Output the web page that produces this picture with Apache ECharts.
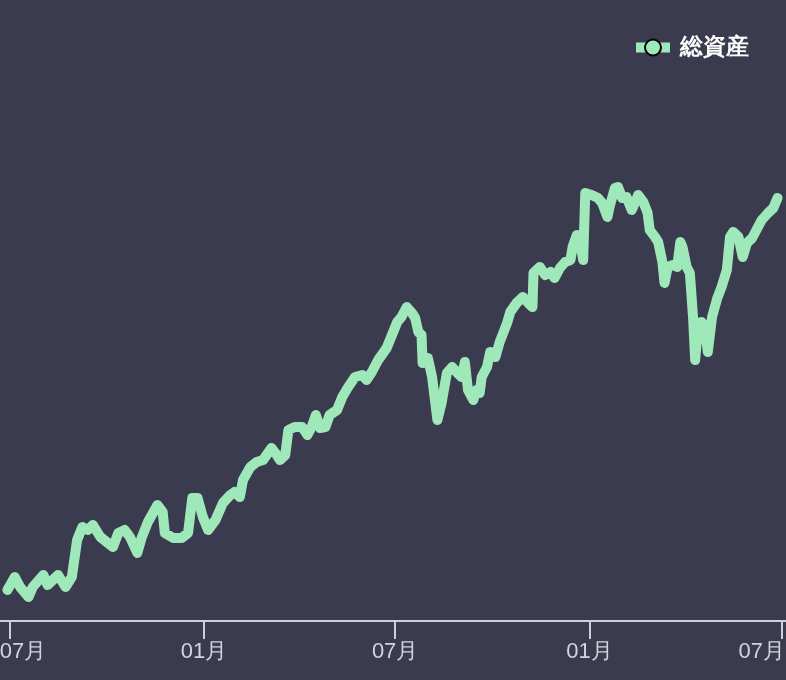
<!DOCTYPE html>
<html>
<head>
<meta charset="utf-8">
<script src="https://cdn.jsdelivr.net/npm/echarts@6/dist/echarts.min.js"></script>
<style>
  html, body { margin: 0; padding: 0; background: #3b3b50; }
  #chart { width: 786px; height: 680px; }
</style>
</head>
<body>
<div id="chart"></div>
<script>
// Series name
const seriesName = '総資産';
// Dates: day offsets from 2022-07-01
const startYear = 2022, startMonth = 6, startDay = 1;
const dayOffsets = [
  -2, 5, 10, 18, 22, 32, 36, 41, 46, 53, 59, 64, 69, 74, 79, 86, 92, 98, 103, 109,
  114, 121, 125, 131, 140, 145, 147, 155, 163, 169, 173, 178, 183, 188, 195, 202, 209, 213, 218, 221,
  228, 234, 240, 248, 253, 256, 261, 264, 270, 277, 282, 286, 290, 294, 299, 303, 310, 315, 320, 327,
  334, 338, 343, 349, 357, 367, 371, 376, 381, 384, 387, 390, 391, 396, 400, 405, 409, 414, 419, 424,
  428, 431, 434, 439, 442, 445, 447, 452, 455, 460, 464, 471, 474, 480, 486, 491, 495, 496, 502, 507,
  512, 516, 521, 526, 531, 533, 537, 540, 543, 545, 551, 557, 561, 566, 568, 573, 576, 580, 584, 589,
  592, 595, 600, 604, 606, 611, 614, 618, 620, 623, 628, 632, 635, 637, 641, 644, 647, 649, 652, 655,
  658, 661, 665, 670, 674, 679, 682, 685, 690, 694, 698, 703, 708, 712, 718, 723, 727
];
// Total assets values (arbitrary units)
const totalAssets = [
  31, 44, 34, 24, 34, 46, 36, 41, 46, 34, 44, 81, 94, 91, 96, 84, 79, 74, 88, 91,
  84, 68, 83, 99, 116, 109, 88, 83, 83, 88, 123, 123, 104, 91, 101, 118, 126, 129, 124, 141,
  154, 159, 161, 173, 166, 161, 166, 191, 194, 194, 186, 194, 206, 193, 194, 206, 211, 224, 233, 244,
  246, 241, 249, 261, 273, 299, 304, 314, 308, 303, 289, 286, 258, 263, 244, 201, 218, 248, 254, 248,
  244, 259, 231, 221, 231, 228, 244, 254, 269, 264, 279, 298, 309, 318, 324, 318, 314, 348, 354, 346,
  349, 343, 353, 359, 361, 374, 386, 381, 361, 428, 426, 423, 418, 404, 414, 433, 434, 423, 424, 411,
  418, 426, 419, 408, 391, 384, 379, 359, 338, 354, 356, 354, 379, 374, 354, 348, 304, 261, 298, 299,
  294, 269, 304, 323, 334, 351, 384, 389, 384, 364, 378, 383, 393, 401, 408, 413, 423
];

const seriesData = dayOffsets.map((d, i) => [
  new Date(startYear, startMonth, startDay + d).getTime(),
  totalAssets[i]
]);

const axisMin = new Date(2022, 5, 22).getTime();
const axisMax = new Date(2024, 6, 5).getTime();

const chart = echarts.init(document.getElementById('chart'), null, { renderer: 'canvas' });
const lineColor = '#9ee8b9';
const axisColor = '#cdcde2';

function labelFormatter(value) {
  const d = new Date(value);
  const txt = String(d.getMonth() + 1).padStart(2, '0') + '月';
  if (d.getFullYear() === 2022) return '{first|' + txt + '}';
  if (d.getFullYear() === 2024 && d.getMonth() >= 6) return '{last|' + txt + '}';
  return txt;
}

chart.setOption({
  backgroundColor: '#3b3b50',
  animation: false,
  legend: {
    show: true,
    right: 32,
    top: 31,
    itemWidth: 34,
    itemHeight: 20,
    itemGap: 10,
    lineStyle: { width: 10, cap: 'butt' },
    textStyle: { color: '#ffffff', fontSize: 23, fontWeight: 'bold', padding: [0, 0, 0, 5] },
    data: [seriesName]
  },
  grid: { left: 0, right: 0, top: 21, bottom: 59, containLabel: false, outerBoundsMode: 'none' },
  xAxis: {
    type: 'time',
    min: axisMin,
    max: axisMax,
    splitNumber: 4,
    axisLine: { show: true, lineStyle: { color: axisColor, width: 2 } },
    axisTick: { show: true, length: 18, lineStyle: { color: axisColor, width: 2 } },
    axisLabel: {
      formatter: labelFormatter,
      color: '#d3d3de',
      fontSize: 22,
      margin: 20,
      rich: {
        first: { color: '#d3d3de', fontSize: 22, padding: [0, 0, 0, 27] },
        last: { color: '#d3d3de', fontSize: 22, padding: [0, 40, 0, 0] }
      }
    },
    splitLine: { show: false }
  },
  yAxis: {
    type: 'value',
    show: false,
    min: 0,
    max: 600,
    splitLine: { show: false }
  },
  series: [{
    name: seriesName,
    type: 'line',
    data: seriesData,
    showSymbol: false,
    symbol: 'circle',
    symbolSize: 16,
    itemStyle: { color: lineColor, borderColor: '#000', borderWidth: 2 },
    lineStyle: { color: lineColor, width: 10, cap: 'round', join: 'round' }
  }]
});
</script>
</body>
</html>
